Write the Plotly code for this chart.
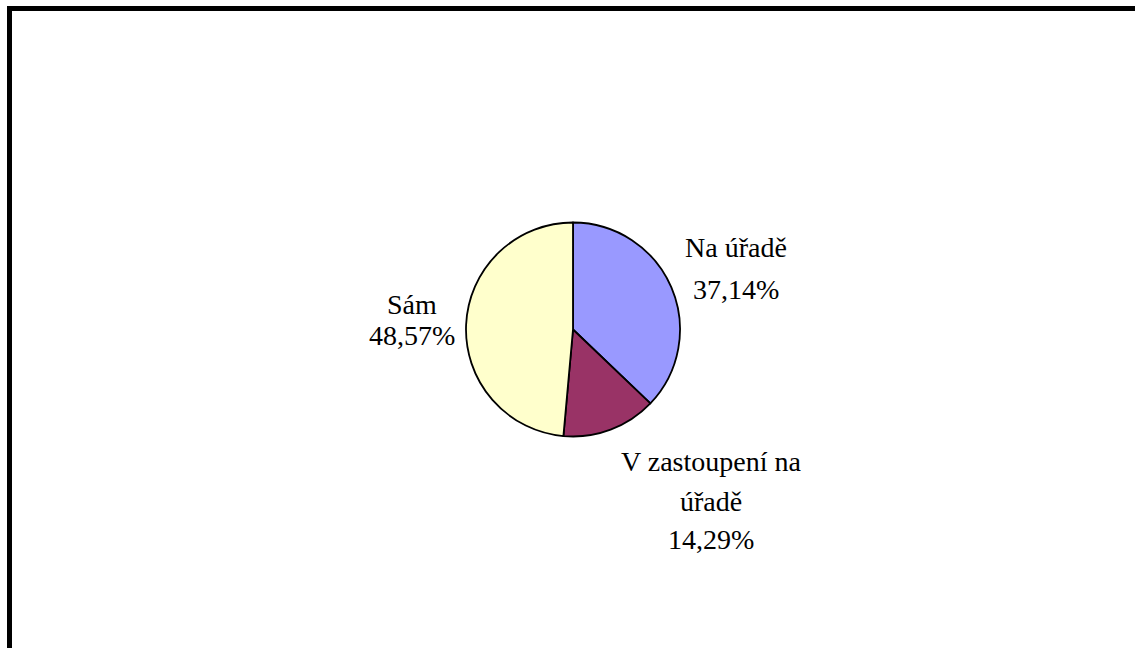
import plotly.graph_objects as go

labels = ["Na úřadě", "V zastoupení na úřadě", "Sám"]
values = [37.14, 14.29, 48.57]
colors = ["#9999FF", "#993366", "#FFFFCC"]

label_lines = [["Na úřadě"], ["V zastoupení na", "úřadě"], ["Sám"]]

W, H = 1135, 648
cx, cy, r = 573, 329.5, 107

def fx(px):
    return px / W

def fy(py):
    return 1 - py / H

fig = go.Figure(go.Pie(
    labels=labels,
    values=values,
    sort=False,
    direction="clockwise",
    rotation=0,
    marker=dict(colors=colors, line=dict(color="black", width=1.8)),
    textinfo="none",
    hoverinfo="label+percent",
    domain=dict(x=[fx(cx - r), fx(cx + r)], y=[fy(cy + r), fy(cy - r)]),
    showlegend=False,
))

label_pos = [
    (736, [257, 298]),
    (711, [471, 510, 548]),
    (412, [313, 344]),
]

serif = "Liberation Serif, Times New Roman, serif"
fsize = 28
annotations = []
for i, (lab_lines, val) in enumerate(zip(label_lines, values)):
    texts = lab_lines + [f"{val:.2f}".replace(".", ",") + "%"]
    x, ys = label_pos[i]
    for t, yb in zip(texts, ys):
        annotations.append(dict(
            x=fx(x), y=fy(yb - 9), xref="paper", yref="paper",
            text=t, showarrow=False, xanchor="center", yanchor="middle",
            font=dict(family=serif, size=fsize, color="black"),
        ))

shapes = [
    dict(type="rect", xref="paper", yref="paper", x0=fx(7), x1=fx(1135), y0=fy(11), y1=fy(6),
         fillcolor="black", line=dict(width=0)),
    dict(type="rect", xref="paper", yref="paper", x0=fx(7), x1=fx(12), y0=fy(648), y1=fy(6),
         fillcolor="black", line=dict(width=0)),
]

fig.update_layout(
    width=W, height=H,
    margin=dict(l=0, r=0, t=0, b=0),
    paper_bgcolor="white", plot_bgcolor="white",
    font=dict(family=serif),
    annotations=annotations,
    shapes=shapes,
)

fig.write_html("out.html", config={"displayModeBar": False},
               post_script="document.body.style.margin='0';document.body.style.padding='0';")
